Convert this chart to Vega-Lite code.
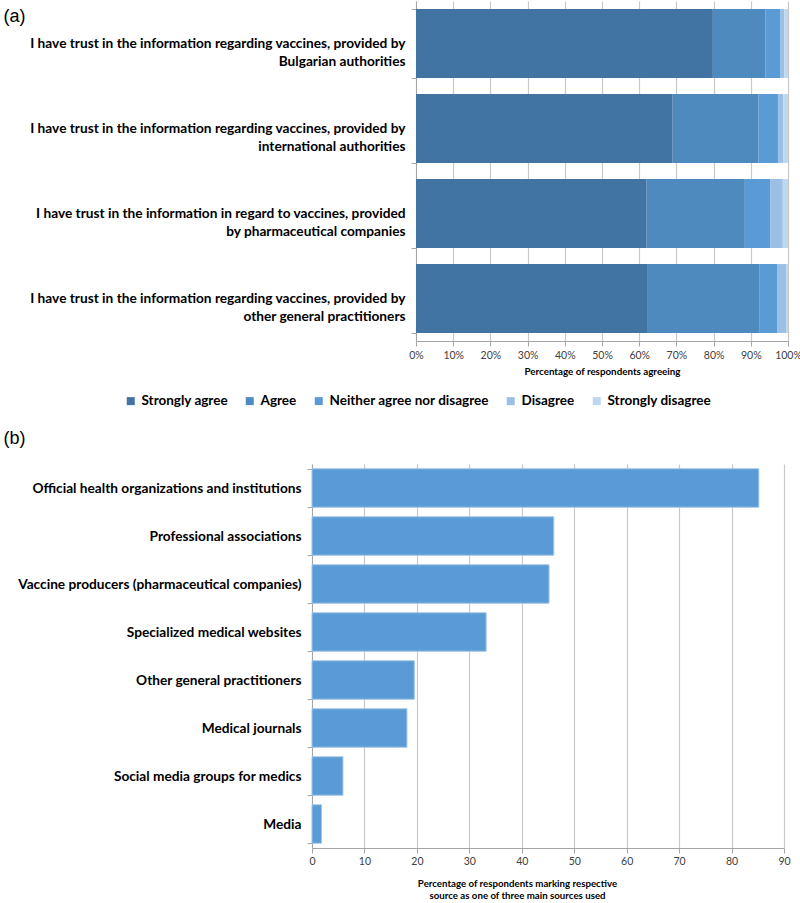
{
  "$schema": "https://vega.github.io/schema/vega-lite/v6.json",
  "padding": {"left": 3, "top": -6, "right": 5, "bottom": 0},
  "background": "white",
  "config": {
    "view": {"stroke": null},
    "font": "Lato"
  },
  "datasets": {
    "trust": [
      {"statement": "I have trust in the information regarding vaccines, provided by|Bulgarian authorities", "response": "Strongly agree", "rank": 1, "pct": 79.8},
      {"statement": "I have trust in the information regarding vaccines, provided by|Bulgarian authorities", "response": "Agree", "rank": 2, "pct": 14.1},
      {"statement": "I have trust in the information regarding vaccines, provided by|Bulgarian authorities", "response": "Neither agree nor disagree", "rank": 3, "pct": 4.1},
      {"statement": "I have trust in the information regarding vaccines, provided by|Bulgarian authorities", "response": "Disagree", "rank": 4, "pct": 1.0},
      {"statement": "I have trust in the information regarding vaccines, provided by|Bulgarian authorities", "response": "Strongly disagree", "rank": 5, "pct": 1.0},
      {"statement": "I have trust in the information regarding vaccines, provided by|international authorities", "response": "Strongly agree", "rank": 1, "pct": 69.0},
      {"statement": "I have trust in the information regarding vaccines, provided by|international authorities", "response": "Agree", "rank": 2, "pct": 23.1},
      {"statement": "I have trust in the information regarding vaccines, provided by|international authorities", "response": "Neither agree nor disagree", "rank": 3, "pct": 5.2},
      {"statement": "I have trust in the information regarding vaccines, provided by|international authorities", "response": "Disagree", "rank": 4, "pct": 1.4},
      {"statement": "I have trust in the information regarding vaccines, provided by|international authorities", "response": "Strongly disagree", "rank": 5, "pct": 1.3},
      {"statement": "I have trust in the information in regard to vaccines, provided|by pharmaceutical companies", "response": "Strongly agree", "rank": 1, "pct": 62.0},
      {"statement": "I have trust in the information in regard to vaccines, provided|by pharmaceutical companies", "response": "Agree", "rank": 2, "pct": 26.4},
      {"statement": "I have trust in the information in regard to vaccines, provided|by pharmaceutical companies", "response": "Neither agree nor disagree", "rank": 3, "pct": 6.9},
      {"statement": "I have trust in the information in regard to vaccines, provided|by pharmaceutical companies", "response": "Disagree", "rank": 4, "pct": 3.3},
      {"statement": "I have trust in the information in regard to vaccines, provided|by pharmaceutical companies", "response": "Strongly disagree", "rank": 5, "pct": 1.4},
      {"statement": "I have trust in the information regarding vaccines, provided by|other general practitioners", "response": "Strongly agree", "rank": 1, "pct": 62.1},
      {"statement": "I have trust in the information regarding vaccines, provided by|other general practitioners", "response": "Agree", "rank": 2, "pct": 30.3},
      {"statement": "I have trust in the information regarding vaccines, provided by|other general practitioners", "response": "Neither agree nor disagree", "rank": 3, "pct": 4.8},
      {"statement": "I have trust in the information regarding vaccines, provided by|other general practitioners", "response": "Disagree", "rank": 4, "pct": 2.3},
      {"statement": "I have trust in the information regarding vaccines, provided by|other general practitioners", "response": "Strongly disagree", "rank": 5, "pct": 0.5}
    ],
    "sources": [
      {"source": "Official health organizations and institutions", "pct": 85.2},
      {"source": "Professional associations", "pct": 46.1},
      {"source": "Vaccine producers (pharmaceutical companies)", "pct": 45.2},
      {"source": "Specialized medical websites", "pct": 33.2},
      {"source": "Other general practitioners", "pct": 19.5},
      {"source": "Medical journals", "pct": 18.1},
      {"source": "Social media groups for medics", "pct": 5.9},
      {"source": "Media", "pct": 1.8}
    ]
  },
  "spacing": 52,
  "vconcat": [
    {
      "width": 476,
      "height": 340,
      "data": {"name": "trust"},
      "mark": {"type": "bar"},
      "encoding": {
        "y": {
          "field": "statement",
          "type": "nominal",
          "sort": [
            "I have trust in the information regarding vaccines, provided by|Bulgarian authorities",
            "I have trust in the information regarding vaccines, provided by|international authorities",
            "I have trust in the information in regard to vaccines, provided|by pharmaceutical companies",
            "I have trust in the information regarding vaccines, provided by|other general practitioners"
          ],
          "scale": {"paddingInner": 0.19, "paddingOuter": 0.095},
          "axis": {
            "offset": -104,
            "title": "(a)",
            "titleFont": "Liberation Sans",
            "titleFontSize": 18,
            "titleFontWeight": "normal",
            "titleColor": "#000000",
            "titleAngle": 0,
            "titleAlign": "left",
            "titleBaseline": "top",
            "titleX": -413,
            "titleY": 6,
            "labelExpr": "split(datum.label, '|')",
            "labelFont": "Lato",
            "labelFontSize": 13.7,
            "labelFontWeight": "bold",
            "labelColor": "#000000",
            "labelLineHeight": 18,
            "labelLimit": 420,
            "labelPadding": 6,
            "tickBand": "extent",
            "tickSize": 5,
            "tickColor": "#A6A6A6",
            "domainColor": "#A6A6A6",
            "grid": false
          }
        },
        "x": {
          "field": "pct",
          "type": "quantitative",
          "stack": "zero",
          "scale": {"domain": [0, 100], "nice": false, "range": [104, 476]},
          "axis": {
            "title": "Percentage of respondents agreeing",
            "titleFont": "Lato",
            "titleFontSize": 9.8,
            "titleFontWeight": "bold",
            "titleColor": "#000000",
            "titlePadding": 6,
            "values": [0, 10, 20, 30, 40, 50, 60, 70, 80, 90, 100],
            "labelExpr": "datum.value + '%'",
            "labelFont": "Lato",
            "labelFontSize": 10.5,
            "labelColor": "#404040",
            "labelPadding": 4,
            "labelFlush": false,
            "tickSize": 5,
            "tickColor": "#A6A6A6",
            "domainColor": "#A6A6A6",
            "grid": true,
            "gridColor": "#C8C8C8",
            "gridWidth": 1.2
          }
        },
        "order": {"field": "rank", "type": "quantitative", "sort": "ascending"},
        "color": {
          "field": "response",
          "type": "nominal",
          "scale": {
            "domain": ["Strongly agree", "Agree", "Neither agree nor disagree", "Disagree", "Strongly disagree"],
            "range": ["#4173A3", "#4F8ABF", "#5A9BD6", "#9BBFE5", "#BDD7EE"]
          },
          "legend": {
            "title": null,
            "orient": "none",
            "direction": "horizontal",
            "columns": 5,
            "legendX": -188,
            "legendY": 393,
            "symbolType": "square",
            "symbolSize": 64,
            "symbolStrokeWidth": 0,
            "labelFont": "Lato",
            "labelFontSize": 13.5,
            "labelFontWeight": "bold",
            "labelColor": "#000000",
            "labelOffset": 4,
            "columnPadding": 15,
            "labelLimit": 300
          }
        }
      }
    },
    {
      "width": 472,
      "height": 384,
      "data": {"name": "sources"},
      "mark": {"type": "bar", "color": "#5B9BD5", "stroke": "#9DC3E6", "strokeWidth": 1},
      "encoding": {
        "y": {
          "field": "source",
          "type": "nominal",
          "sort": null,
          "scale": {"paddingInner": 0.2, "paddingOuter": 0.1},
          "axis": {
            "title": "(b)",
            "titleFont": "Liberation Sans",
            "titleFontSize": 18,
            "titleFontWeight": "normal",
            "titleColor": "#000000",
            "titleAngle": 0,
            "titleAlign": "left",
            "titleBaseline": "top",
            "titleX": -309,
            "titleY": -35,
            "labelFont": "Lato",
            "labelFontSize": 13.7,
            "labelFontWeight": "bold",
            "labelColor": "#000000",
            "labelLimit": 320,
            "labelPadding": 6,
            "tickBand": "extent",
            "tickSize": 5,
            "tickColor": "#A6A6A6",
            "domainColor": "#A6A6A6",
            "grid": false
          }
        },
        "x": {
          "field": "pct",
          "type": "quantitative",
          "scale": {"domain": [0, 90], "nice": false},
          "axis": {
            "title": ["Percentage of respondents marking respective", "source as one of three main sources used"],
            "titleFont": "Lato",
            "titleFontSize": 9.7,
            "titleFontWeight": "bold",
            "titleColor": "#000000",
            "titleLineHeight": 12,
            "titleX": 205,
            "titleY": 30,
            "titleBaseline": "top",
            "values": [0, 10, 20, 30, 40, 50, 60, 70, 80, 90],
            "labelFont": "Lato",
            "labelFontSize": 10.5,
            "labelColor": "#404040",
            "labelPadding": 3,
            "labelFlush": false,
            "tickSize": 5,
            "tickColor": "#A6A6A6",
            "domainColor": "#A6A6A6",
            "grid": true,
            "gridColor": "#C8C8C8",
            "gridWidth": 1.2
          }
        }
      }
    }
  ]
}
